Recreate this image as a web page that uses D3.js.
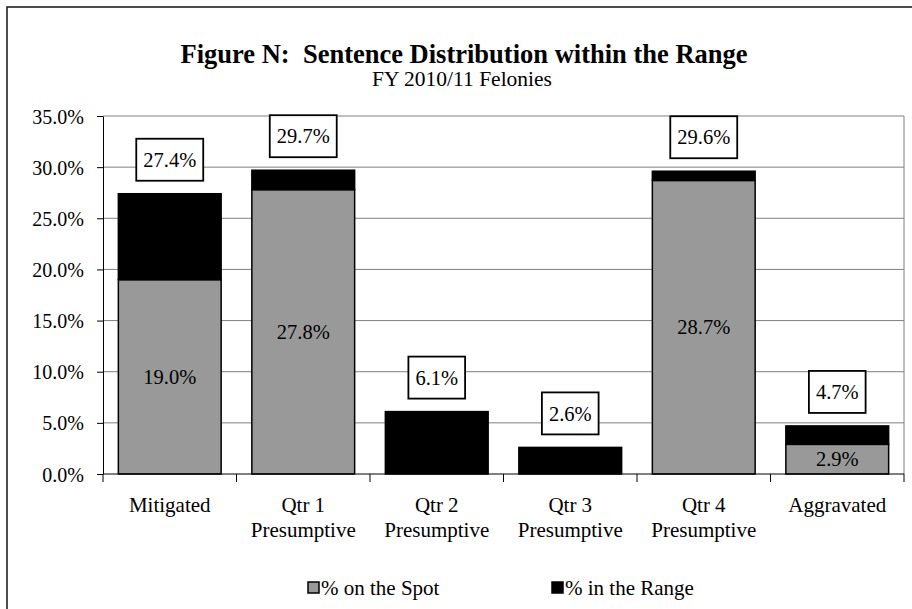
<!DOCTYPE html>
<html>
<head>
<meta charset="utf-8">
<script src="https://cdn.jsdelivr.net/npm/d3@7"></script>
<style>
  html, body { margin: 0; padding: 0; background: #fff; }
  svg text { font-family: "Liberation Serif", "Times New Roman", Times, "DejaVu Serif", serif !important; fill: #000; white-space: pre; }
</style>
</head>
<body>
<svg id="chart" width="912" height="609"></svg>
<script>
const categories = ["Mitigated", "Qtr 1|Presumptive", "Qtr 2|Presumptive", "Qtr 3|Presumptive", "Qtr 4|Presumptive", "Aggravated"];
const spotValues = [19.0, 27.8, 0, 0, 28.7, 2.9];
const rangeValues = [8.4, 1.9, 6.1, 2.6, 0.9, 1.8];
const totalValues = [27.4, 29.7, 6.1, 2.6, 29.6, 4.7];
const yTicks = [0, 5, 10, 15, 20, 25, 30, 35];
const seriesNames = ["% on the Spot", "% in the Range"];

const svg = d3.select("#chart");
const plot = { left: 103, right: 904, top: 116, bottom: 474 };
const FF = "'Liberation Serif', 'Times New Roman', Times, 'DejaVu Serif', serif";

// outer frame (cropped at right/bottom)
svg.append("rect").attr("x", 7).attr("y", 7).attr("width", 940).attr("height", 640)
  .attr("fill", "none").attr("stroke", "#222").attr("stroke-width", 1.6);

const x = d3.scaleBand().domain(categories).range([plot.left, plot.right]).paddingInner(0.23).paddingOuter(0.115);
const xb = d3.scaleBand().domain(categories).range([plot.left, plot.right]);
const y = d3.scaleLinear().domain([0, 35]).range([plot.bottom, plot.top]);

// title
svg.append("text").attr("x", 464).attr("y", 63).attr("text-anchor", "middle").attr("font-family", FF)
  .attr("font-size", 26.5).attr("font-weight", "bold").text("Figure N:  Sentence Distribution within the Range");
svg.append("text").attr("x", 462).attr("y", 86).attr("text-anchor", "middle").attr("font-family", FF)
  .attr("font-size", 21.5).text("FY 2010/11 Felonies");

// gridlines
svg.append("g").selectAll("line").data(yTicks.filter(d => d > 0)).join("line")
  .attr("x1", plot.left).attr("x2", plot.right)
  .attr("y1", d => y(d)).attr("y2", d => y(d))
  .attr("stroke", "#808080").attr("stroke-width", 1);
svg.append("line").attr("x1", plot.right).attr("x2", plot.right).attr("y1", plot.top).attr("y2", plot.bottom)
  .attr("stroke", "#808080").attr("stroke-width", 1);

// bars
const stacks = categories.map((c, i) => ({ c, spot: spotValues[i], range: rangeValues[i], total: totalValues[i] }));
const g = svg.append("g");
g.selectAll("rect.spot").data(stacks.filter(d => d.spot > 0)).join("rect").attr("class", "spot")
  .attr("x", d => x(d.c)).attr("width", x.bandwidth())
  .attr("y", d => y(d.spot)).attr("height", d => y(0) - y(d.spot))
  .attr("fill", "#999999").attr("stroke", "#000").attr("stroke-width", 1.5);
g.selectAll("rect.range").data(stacks).join("rect").attr("class", "range")
  .attr("x", d => x(d.c)).attr("width", x.bandwidth())
  .attr("y", d => y(d.spot + d.range)).attr("height", d => y(d.spot) - y(d.spot + d.range))
  .attr("fill", "#000").attr("stroke", "#000").attr("stroke-width", 1.5);

// y axis
const yAxis = d3.axisLeft(y).tickValues(yTicks).tickSize(6).tickSizeOuter(0).tickFormat(d => d.toFixed(1) + "%");
const ya = svg.append("g").attr("transform", `translate(${plot.left},0)`).call(yAxis).attr("font-family", FF);
ya.select(".domain").attr("stroke", "#000");
ya.selectAll(".tick line").attr("stroke", "#000");
ya.selectAll(".tick text").attr("font-size", 20).attr("x", -19).attr("dy", "0.35em");

// x axis
const xa = svg.append("g");
xa.append("line").attr("x1", plot.left).attr("x2", plot.right).attr("y1", plot.bottom).attr("y2", plot.bottom).attr("stroke", "#000");
xa.selectAll("line.t").data(categories.concat(["__end"])).join("line").attr("class", "t")
  .attr("x1", (d, i) => plot.left + i * xb.step()).attr("x2", (d, i) => plot.left + i * xb.step())
  .attr("y1", plot.bottom).attr("y2", plot.bottom + 8).attr("stroke", "#000");
const xl = xa.selectAll("text").data(categories).join("text").attr("font-family", FF)
  .attr("x", d => xb(d) + xb.bandwidth() / 2).attr("y", 512).attr("text-anchor", "middle").attr("font-size", 21);
xl.each(function(d) {
  const parts = d.split("|");
  d3.select(this).selectAll("tspan").data(parts).join("tspan")
    .attr("x", xb(d) + xb.bandwidth() / 2).attr("dy", (p, j) => j === 0 ? 0 : 25).text(p => p);
});

// inside labels (spot)
g.selectAll("text.spotlbl").data(stacks.filter(d => d.spot > 0)).join("text").attr("class", "spotlbl")
  .attr("font-family", FF)
  .attr("x", d => x(d.c) + x.bandwidth() / 2).attr("y", d => y(d.spot / 2)).attr("dy", "0.35em")
  .attr("text-anchor", "middle").attr("font-size", 20.5).text(d => d.spot.toFixed(1) + "%");

// total labels with boxes
const tl = svg.append("g").selectAll("g").data(stacks).join("g")
  .attr("transform", d => `translate(${x(d.c) + x.bandwidth() / 2},${y(d.total) - 34})`);
tl.append("text").attr("text-anchor", "middle").attr("dy", "0.35em").attr("font-size", 20.5).attr("font-family", FF)
  .text(d => d.total.toFixed(1) + "%");
tl.each(function() {
  const t = d3.select(this).select("text");
  const w = t.node().getComputedTextLength();
  d3.select(this).insert("rect", "text").attr("x", -w / 2 - 7).attr("y", -21).attr("width", w + 14).attr("height", 42)
    .attr("fill", "#fff").attr("stroke", "#000").attr("stroke-width", 1.8);
});

// legend
const legend = svg.append("g");
const legItems = [{ name: seriesNames[0], fill: "#999999", x: 308 }, { name: seriesNames[1], fill: "#000", x: 552 }];
const li = legend.selectAll("g").data(legItems).join("g").attr("transform", d => `translate(${d.x},588)`);
li.append("rect").attr("x", 0).attr("y", -6).attr("width", 11).attr("height", 11)
  .attr("fill", d => d.fill).attr("stroke", "#000").attr("stroke-width", 1.5);
li.append("text").attr("x", 13).attr("dy", "0.35em").attr("font-size", 21).attr("font-family", FF).text(d => d.name);
</script>
</body>
</html>
